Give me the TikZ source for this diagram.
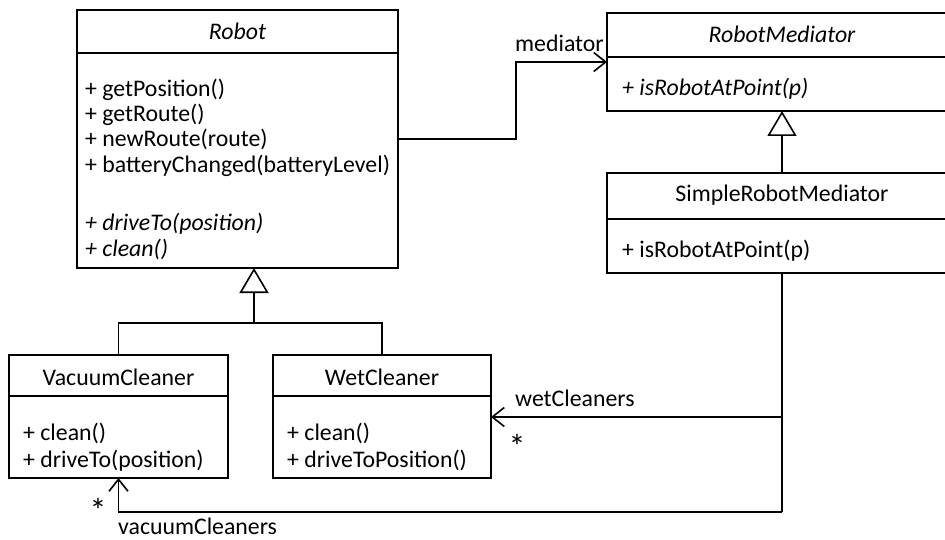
\documentclass[tikz,border=0pt]{standalone}
\usepackage{fontspec}
\setmainfont{Carlito}
\usetikzlibrary{arrows.meta}

\newcommand{\umlfont}{\fontsize{23.8pt}{27pt}\selectfont}

\tikzset{
  umlbox/.style={draw, line width=1.6pt, inner sep=0pt, outer sep=0pt, anchor=north west},
  member/.style={anchor=base west, inner sep=0pt, font=\umlfont},
  title/.style={anchor=base, inner sep=0pt, font=\umlfont},
  rolelabel/.style={anchor=base west, inner sep=0pt, font=\umlfont},
  mult/.style={anchor=center, inner sep=0pt, font=\fontsize{34pt}{34pt}\selectfont},
  link/.style={line width=1.6pt},
  assoc/.style={link, -{Straight Barb[length=12pt,width=19pt]}},
  gen/.style={link, -{Triangle[open,length=25pt,width=29pt,fill=white]}}
}

\begin{document}
\begin{tikzpicture}[x=1pt, y=-1pt]
  \useasboundingbox (0,0) rectangle (945,540);
  \clip (0,0) rectangle (945,540);

  % ---- Robot (abstract) ----
  \node[umlbox, minimum width=321pt, minimum height=43pt] (robotT) at (77,10) {};
  \node[umlbox, minimum width=321pt, minimum height=215pt] (robotB) at (77,53) {};
  \node[title] (robotName) at (237.5,40) {\itshape Robot};
  \node[member] (r1) at (85,97) {+ getPosition()};
  \node[member] (r2) at (85,122) {+ getRoute()};
  \node[member] (r3) at (85,147) {+ newRoute(route)};
  \node[member] (r4) at (85,173) {+ batteryChanged(batteryLevel)};
  \node[member] (r5) at (85,231) {\itshape + driveTo(position)};
  \node[member] (r6) at (85,256) {\itshape + clean()};

  % ---- RobotMediator (abstract) ----
  \node[umlbox, minimum width=350pt, minimum height=44pt] (medT) at (607,13) {};
  \node[umlbox, minimum width=350pt, minimum height=54pt] (medB) at (607,57) {};
  \node[title] (medName) at (782,43) {\itshape RobotMediator};
  \node[member] (m1) at (622,96) {\itshape + isRobotAtPoint(p)};

  % ---- SimpleRobotMediator ----
  \node[umlbox, minimum width=350pt, minimum height=46pt] (simpleT) at (607,173) {};
  \node[umlbox, minimum width=350pt, minimum height=54pt] (simpleB) at (607,219) {};
  \node[title] (simpleName) at (782,202) {SimpleRobotMediator};
  \node[member] (s1) at (622,258) {+ isRobotAtPoint(p)};

  % ---- VacuumCleaner ----
  \node[umlbox, minimum width=219pt, minimum height=41pt] (vacT) at (9,355) {};
  \node[umlbox, minimum width=219pt, minimum height=82pt] (vacB) at (9,396) {};
  \node[title] (vacName) at (118.5,385) {VacuumCleaner};
  \node[member] (v1) at (23,440) {+ clean()};
  \node[member] (v2) at (23,467) {+ driveTo(position)};

  % ---- WetCleaner ----
  \node[umlbox, minimum width=218pt, minimum height=41pt] (wetT) at (273,355) {};
  \node[umlbox, minimum width=218pt, minimum height=82pt] (wetB) at (273,396) {};
  \node[title] (wetName) at (382,385) {WetCleaner};
  \node[member] (w1) at (287,440) {+ clean()};
  \node[member] (w2) at (287,467) {+ driveToPosition()};

  % ---- generalisations ----
  \coordinate (robotJoin) at (254,323);
  \draw[link] (vacT.north) |- (robotJoin) -| (wetT.north);
  \draw[gen] (robotJoin) -- (robotJoin |- robotB.south);
  \draw[gen] (simpleT.north) -- (medB.south);

  % ---- Robot -> RobotMediator ----
  \coordinate (medBend) at (516,139);
  \draw[assoc] (robotB.east |- medBend) -- (medBend) |- ([yshift=-5pt]medB.north west);
  \node[rolelabel] (medRole) at (515,52) {mediator};

  % ---- SimpleRobotMediator -> cleaners ----
  \coordinate (lowCorner) at (782,512);
  \draw[link] (simpleB.south) -- (lowCorner);
  \draw[assoc] ([yshift=20pt]wetB.east -| simpleB.south) -- ([yshift=20pt]wetB.east);
  \draw[assoc] (lowCorner) -| (vacB.south);
  \node[rolelabel] (wetRole) at (515,406) {wetCleaners};
  \node[mult] (wetMult) at (517,446) {*};
  \node[rolelabel] (vacRole) at (118,534) {vacuumCleaners};
  \node[mult] (vacMult) at (98,510) {*};
\end{tikzpicture}
\end{document}
